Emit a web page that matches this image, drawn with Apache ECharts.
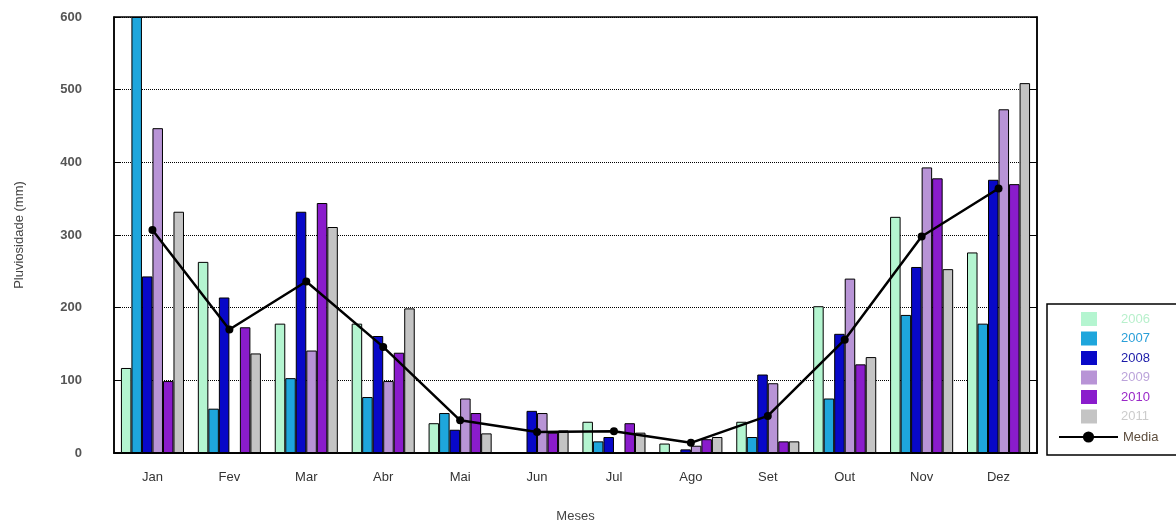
<!DOCTYPE html>
<html>
<head>
<meta charset="utf-8">
<script src="https://cdn.jsdelivr.net/npm/echarts@6/dist/echarts.min.js"></script>
<style>html,body{margin:0;padding:0;background:#fff}#c{width:1176px;height:526px}</style>
</head>
<body>
<div id="c"></div>
<script>
const months = ['Jan','Fev','Mar','Abr','Mai','Jun','Jul','Ago','Set','Out','Nov','Dez'];
const yTicks = [0,100,200,300,400,500,600];
const s2006 = [117,263,178,178,41,1,43,13,43,202,325,276];
const s2007 = [600,61,103,77,55,1,16,null,22,75,190,178];
const s2008 = [243,214,332,161,32,58,22,5,108,164,256,376];
const s2009 = [447,null,141,99,75,55,null,10,96,240,393,473];
const s2010 = [99,173,344,138,55,28,41,19,16,122,378,370];
const s2011 = [332,137,311,199,27,31,28,22,16,132,253,509];
const media = [307,170,236,146,45,29,30,14,51,156,298,364];

const years = ['2006','2007','2008','2009','2010','2011'];
const yearData = [s2006,s2007,s2008,s2009,s2010,s2011];
const colors = ['#b4f5d0','#1ea6dc','#0808c8','#b894d6','#8a1ccc','#c4c4c4'];
const textColors = ['#b8f0cc','#2a9fd8','#1a1aa8','#bca4da','#9a28c8','#cccccc'];

const chart = echarts.init(document.getElementById('c'));
const font = 'Liberation Sans, Arial, sans-serif';
const bars = years.map((y,i)=>({
  name:y, type:'bar', data:yearData[i], xAxisIndex:0, yAxisIndex:0,
  barGap:'0%', barCategoryGap:'18%',
  itemStyle:{color:colors[i], borderColor:'#000', borderWidth:1}
}));
chart.setOption({
  animation:false,
  grid:{left:114, right:139, top:17, bottom:73, show:true, borderColor:'#000', borderWidth:1.5,
        containLabel:false, outerBoundsMode:'none'},
  legend:[{
    orient:'vertical', left:1081, top:312, padding:0, itemWidth:16, itemHeight:14, itemGap:5.5,
    icon:'rect', itemStyle:{borderWidth:0},
    data:years.map((y,i)=>({name:y, textStyle:{color:textColors[i]}})),
    textStyle:{fontFamily:font, fontSize:13, lineHeight:14, padding:[0,0,0,19]}
  },{
    orient:'vertical', left:1058, top:430, padding:0, itemWidth:59, itemHeight:14,
    data:[{name:'Media', textStyle:{color:'#5c4c3c'}}],
    textStyle:{fontFamily:font, fontSize:13, lineHeight:14}
  }],
  graphic:[{type:'rect', shape:{x:1047,y:304,width:140,height:151}, style:{fill:'none', stroke:'#000', lineWidth:1.5}, z:0}],
  xAxis:[{
    type:'category', data:months, position:'bottom',
    name:'Meses', nameLocation:'middle', nameGap:57,
    nameTextStyle:{fontFamily:font, fontSize:13, color:'#444'},
    axisLine:{lineStyle:{color:'#000', width:1.5}},
    axisTick:{inside:true, length:5, lineStyle:{color:'#000'}},
    axisLabel:{fontFamily:font, fontSize:13, color:'#333', margin:18}
  },{
    type:'category', data:months, position:'top',
    axisLine:{lineStyle:{color:'#000', width:1.5}},
    axisTick:{inside:true, length:5, lineStyle:{color:'#000'}},
    axisLabel:{show:false}
  }],
  yAxis:[{
    type:'value', min:0, max:600, interval:100, position:'left',
    name:'Pluviosidade (mm)', nameLocation:'middle', nameGap:88, nameRotate:90,
    nameTextStyle:{fontFamily:font, fontSize:13, color:'#444'},
    axisLine:{show:true, lineStyle:{color:'#000', width:1.5}},
    axisTick:{show:true, inside:true, length:6, lineStyle:{color:'#000'}},
    axisLabel:{fontFamily:font, fontSize:13, color:'#555', margin:32, align:'right', fontWeight:'bold',
      formatter:v=>yTicks.includes(v)?String(v):''},
    splitLine:{show:true, lineStyle:{color:'#000', type:'dotted', width:1}}
  },{
    type:'value', min:0, max:600, interval:100, position:'right',
    axisLine:{show:true, lineStyle:{color:'#000', width:1.5}},
    axisTick:{show:true, inside:true, length:6, lineStyle:{color:'#000'}},
    axisLabel:{show:false}, splitLine:{show:false}
  }],
  series:[...bars,{
    name:'Media', type:'line', data:media, xAxisIndex:0, yAxisIndex:0,
    symbol:'circle', symbolSize:8, z:5,
    lineStyle:{color:'#000', width:2.5}, itemStyle:{color:'#000'}
  }]
});
</script>
</body>
</html>
